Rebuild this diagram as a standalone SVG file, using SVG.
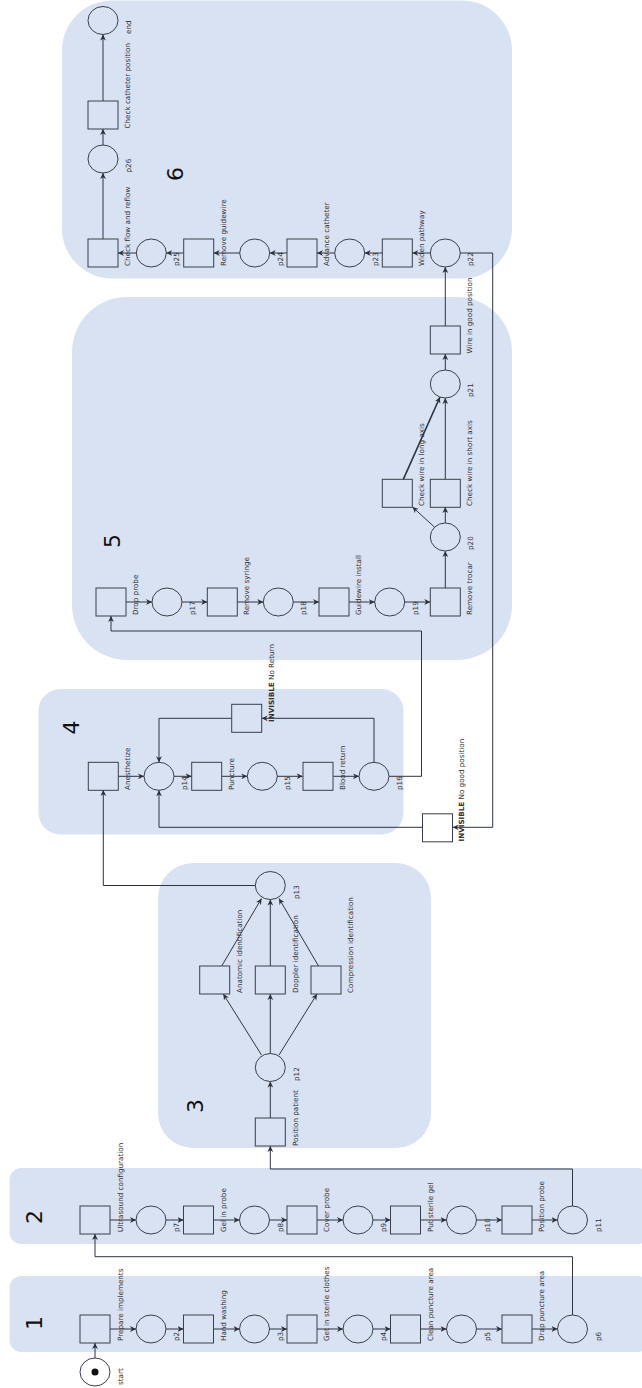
<svg xmlns="http://www.w3.org/2000/svg" width="642" height="1388" viewBox="0 0 642 1388">
<style>
.zone{fill:#d9e2f3}
.n{fill:none;stroke:#3a3f4a;stroke-width:1}
.c{fill:none;stroke:#2f3440;stroke-width:1;marker-end:url(#a)}
.l{font-family:"DejaVu Sans",sans-serif;font-size:7.2px;fill:#333}
.b{font-weight:bold}
.z{font-family:"DejaVu Sans",sans-serif;font-size:22px;fill:#111;text-anchor:middle}
</style>
<defs>
<marker id="a" markerWidth="8" markerHeight="8" refX="6" refY="3.5" orient="auto" markerUnits="userSpaceOnUse"><path d="M0,0.6 L6,3.5 L0,6.4 L1.8,3.5 z" fill="#2a2f3a"/></marker>
</defs>
<g id="zones">
<rect class="zone" x="9.5" y="1276" width="640" height="76" rx="12"/>
<rect class="zone" x="9.5" y="1168" width="640" height="76" rx="12"/>
<rect class="zone" x="158" y="863" width="273" height="285" rx="35"/>
<rect class="zone" x="38.5" y="689" width="365" height="145.5" rx="22"/>
<rect class="zone" x="72" y="297" width="440" height="363" rx="55"/>
<rect class="zone" x="62" y="0.5" width="450" height="278" rx="50"/>
</g>
<g id="zone-labels">
<text class="z" transform="translate(41.5,1323) rotate(-90)">1</text>
<text class="z" transform="translate(41.5,1217) rotate(-90)">2</text>
<text class="z" transform="translate(202.5,1106) rotate(-90)">3</text>
<text class="z" transform="translate(79.3,727.5) rotate(-90)">4</text>
<text class="z" transform="translate(120,541) rotate(-90)">5</text>
<text class="z" transform="translate(182.7,174) rotate(-90)">6</text>
</g>
<g id="connectors">
<path class="c" d="M95,1358 V1343"/>
<path class="c" d="M110,1329 H136"/>
<path class="c" d="M166,1329 H183.5"/>
<path class="c" d="M213.5,1329 H239.5"/>
<path class="c" d="M269.5,1329 H287"/>
<path class="c" d="M317,1329 H343"/>
<path class="c" d="M373,1329 H390.5"/>
<path class="c" d="M420.5,1329 H446.5"/>
<path class="c" d="M476.5,1329 H502"/>
<path class="c" d="M532,1329 H557.5"/>
<path class="c" d="M572.5,1315 V1256.7 H95 V1234"/>
<path class="c" d="M110,1220 H136"/>
<path class="c" d="M166,1220 H183.5"/>
<path class="c" d="M213.5,1220 H239.5"/>
<path class="c" d="M269.5,1220 H287"/>
<path class="c" d="M317,1220 H343"/>
<path class="c" d="M373,1220 H390.5"/>
<path class="c" d="M420.5,1220 H446.5"/>
<path class="c" d="M476.5,1220 H502"/>
<path class="c" d="M532,1220 H557.5"/>
<path class="c" d="M572.5,1206 V1169 H270.3 V1146"/>
<path class="c" d="M270.3,1118 V1081.5"/>
<path class="c" d="M261.5,1055 L223.3,994"/>
<path class="c" d="M270.3,1053.5 V994"/>
<path class="c" d="M279,1055 L317,994"/>
<path class="c" d="M221.7,966 L261.5,898.5"/>
<path class="c" d="M270.3,966 V899.5"/>
<path class="c" d="M318.5,966 L279,898.5"/>
<path class="c" d="M255.3,885.5 H103.3 V790"/>
<path class="c" d="M118.3,776.3 H144"/>
<path class="c" d="M174,776.3 H191.7"/>
<path class="c" d="M221.7,776.3 H247.3"/>
<path class="c" d="M277.3,776.3 H302.7"/>
<path class="c" d="M333.3,776.3 H359"/>
<path class="c" d="M374,762.3 V718.3 H261.7"/>
<path class="c" d="M231.7,718.3 H159 V762.3"/>
<path class="c" d="M389,776.3 H421.5 V631 H111 V616"/>
<path class="c" d="M422.3,827.3 H159 V790.3"/>
<path class="c" d="M460.3,253 H492.7 V827.3 H452.7"/>
<path class="c" d="M126,602 H152"/>
<path class="c" d="M182,602 H207.3"/>
<path class="c" d="M237.3,602 H263.3"/>
<path class="c" d="M293.3,602 H319"/>
<path class="c" d="M349,602 H374.7"/>
<path class="c" d="M404.7,602 H430.3"/>
<path class="c" d="M445.3,588 V551"/>
<path class="c" d="M445.3,523 V507"/>
<path class="c" d="M434.6,527.2 L412.5,507"/>
<path class="c" d="M403.3,479.3 L440,397" style="stroke-width:1.6"/>
<path class="c" d="M445.3,479.3 V398"/>
<path class="c" d="M445.3,370 V354"/>
<path class="c" d="M445.3,326 V267"/>
<path class="c" d="M430.3,253 H412.3"/>
<path class="c" d="M382.3,253 H364.7"/>
<path class="c" d="M334.7,253 H317"/>
<path class="c" d="M287,253 H269.7"/>
<path class="c" d="M239.7,253 H213.7"/>
<path class="c" d="M183.7,253 H166.3"/>
<path class="c" d="M136.3,253 H118"/>
<path class="c" d="M103,239 V173"/>
<path class="c" d="M103,145 V129"/>
<path class="c" d="M103,101 V34.5"/>
</g>
<g id="start"><ellipse class="n" cx="95" cy="1372" rx="15" ry="14"/><circle cx="95" cy="1372" r="3.5" fill="#111"/><text class="l" transform="translate(122.5,1385) rotate(-90)">start</text></g>
<g id="t-prepare"><rect class="n" x="80" y="1315" width="30" height="28"/><text class="l" transform="translate(122.5,1341) rotate(-90)">Prepare implements</text></g>
<g id="p2"><ellipse class="n" cx="151" cy="1329" rx="15" ry="14"/><text class="l" transform="translate(179,1341) rotate(-90)">p2</text></g>
<g id="t-hand"><rect class="n" x="183.5" y="1315" width="30" height="28"/><text class="l" transform="translate(225.5,1341) rotate(-90)">Hand washing</text></g>
<g id="p3"><ellipse class="n" cx="254.5" cy="1329" rx="15" ry="14"/><text class="l" transform="translate(282.5,1341) rotate(-90)">p3</text></g>
<g id="t-clothes"><rect class="n" x="287" y="1315" width="30" height="28"/><text class="l" transform="translate(329,1341) rotate(-90)">Get in sterile clothes</text></g>
<g id="p4"><ellipse class="n" cx="358" cy="1329" rx="15" ry="14"/><text class="l" transform="translate(386,1341) rotate(-90)">p4</text></g>
<g id="t-clean"><rect class="n" x="390.5" y="1315" width="30" height="28"/><text class="l" transform="translate(432.5,1341) rotate(-90)">Clean puncture area</text></g>
<g id="p5"><ellipse class="n" cx="461.5" cy="1329" rx="15" ry="14"/><text class="l" transform="translate(489.5,1341) rotate(-90)">p5</text></g>
<g id="t-drap"><rect class="n" x="502" y="1315" width="30" height="28"/><text class="l" transform="translate(544,1341) rotate(-90)">Drap puncture area</text></g>
<g id="p6"><ellipse class="n" cx="572.5" cy="1329" rx="15" ry="14"/><text class="l" transform="translate(600.5,1341) rotate(-90)">p6</text></g>
<g id="t-ultra"><rect class="n" x="80" y="1206" width="30" height="28"/><text class="l" transform="translate(122.5,1232) rotate(-90)">Ultrasound configuration</text></g>
<g id="p7"><ellipse class="n" cx="151" cy="1220" rx="15" ry="14"/><text class="l" transform="translate(179,1232) rotate(-90)">p7</text></g>
<g id="t-gel"><rect class="n" x="183.5" y="1206" width="30" height="28"/><text class="l" transform="translate(225.5,1232) rotate(-90)">Gel in probe</text></g>
<g id="p8"><ellipse class="n" cx="254.5" cy="1220" rx="15" ry="14"/><text class="l" transform="translate(282.5,1232) rotate(-90)">p8</text></g>
<g id="t-cover"><rect class="n" x="287" y="1206" width="30" height="28"/><text class="l" transform="translate(329,1232) rotate(-90)">Cover probe</text></g>
<g id="p9"><ellipse class="n" cx="358" cy="1220" rx="15" ry="14"/><text class="l" transform="translate(386,1232) rotate(-90)">p9</text></g>
<g id="t-putgel"><rect class="n" x="390.5" y="1206" width="30" height="28"/><text class="l" transform="translate(432.5,1232) rotate(-90)">Put sterile gel</text></g>
<g id="p10"><ellipse class="n" cx="461.5" cy="1220" rx="15" ry="14"/><text class="l" transform="translate(489.5,1232) rotate(-90)">p10</text></g>
<g id="t-posprobe"><rect class="n" x="502" y="1206" width="30" height="28"/><text class="l" transform="translate(544,1232) rotate(-90)">Position probe</text></g>
<g id="p11"><ellipse class="n" cx="572.5" cy="1220" rx="15" ry="14"/><text class="l" transform="translate(600.5,1232) rotate(-90)">p11</text></g>
<g id="t-pospatient"><rect class="n" x="255.3" y="1118" width="30" height="28"/><text class="l" transform="translate(297.5,1146) rotate(-90)">Position patient</text></g>
<g id="p12"><ellipse class="n" cx="270.3" cy="1067.5" rx="15" ry="14"/><text class="l" transform="translate(298.5,1081) rotate(-90)">p12</text></g>
<g id="t-anatomic"><rect class="n" x="199.7" y="966" width="30" height="28"/><text class="l" transform="translate(241.7,993) rotate(-90)">Anatomic identification</text></g>
<g id="t-doppler"><rect class="n" x="255.3" y="966" width="30" height="28"/><text class="l" transform="translate(297.5,993) rotate(-90)">Doppler identification</text></g>
<g id="t-compression"><rect class="n" x="311" y="966" width="30" height="28"/><text class="l" transform="translate(353,993) rotate(-90)">Compression identification</text></g>
<g id="p13"><ellipse class="n" cx="270.3" cy="885.5" rx="15" ry="14"/><text class="l" transform="translate(298.5,899) rotate(-90)">p13</text></g>
<g id="t-anesth"><rect class="n" x="88.3" y="762.3" width="30" height="28"/><text class="l" transform="translate(130.3,790) rotate(-90)">Anesthetize</text></g>
<g id="p14"><ellipse class="n" cx="159" cy="776.3" rx="15" ry="14"/><text class="l" transform="translate(187,790) rotate(-90)">p14</text></g>
<g id="t-puncture"><rect class="n" x="191.7" y="762.3" width="30" height="28"/><text class="l" transform="translate(233.7,790) rotate(-90)">Puncture</text></g>
<g id="p15"><ellipse class="n" cx="262.3" cy="776.3" rx="15" ry="14"/><text class="l" transform="translate(290.3,790) rotate(-90)">p15</text></g>
<g id="t-blood"><rect class="n" x="303" y="762.3" width="30" height="28"/><text class="l" transform="translate(345,790) rotate(-90)">Blood return</text></g>
<g id="p16"><ellipse class="n" cx="374" cy="776.3" rx="15" ry="14"/><text class="l" transform="translate(402,790) rotate(-90)">p16</text></g>
<g id="t-noreturn"><rect class="n" x="231.7" y="704.3" width="30" height="28"/><text class="l" transform="translate(274.2,722) rotate(-90)"><tspan class="b">INVISIBLE</tspan> No Return</text></g>
<g id="t-nogood"><rect class="n" x="422.5" y="813.8" width="30" height="28"/><text class="l" transform="translate(463.7,841.5) rotate(-90)"><tspan class="b">INVISIBLE</tspan> No good position</text></g>
<g id="t-drop"><rect class="n" x="96" y="588" width="30" height="28"/><text class="l" transform="translate(138,615) rotate(-90)">Drop probe</text></g>
<g id="p17"><ellipse class="n" cx="167" cy="602" rx="15" ry="14"/><text class="l" transform="translate(195,615) rotate(-90)">p17</text></g>
<g id="t-syringe"><rect class="n" x="207.3" y="588" width="30" height="28"/><text class="l" transform="translate(249.3,615) rotate(-90)">Remove syringe</text></g>
<g id="p18"><ellipse class="n" cx="278.3" cy="602" rx="15" ry="14"/><text class="l" transform="translate(306.3,615) rotate(-90)">p18</text></g>
<g id="t-guide"><rect class="n" x="319" y="588" width="30" height="28"/><text class="l" transform="translate(361,615) rotate(-90)">Guidewire install</text></g>
<g id="p19"><ellipse class="n" cx="389.7" cy="602" rx="15" ry="14"/><text class="l" transform="translate(417.7,615) rotate(-90)">p19</text></g>
<g id="t-trocar"><rect class="n" x="430.3" y="588" width="30" height="28"/><text class="l" transform="translate(472.3,615) rotate(-90)">Remove trocar</text></g>
<g id="p20"><ellipse class="n" cx="445.3" cy="537" rx="15" ry="14"/><text class="l" transform="translate(473.3,550) rotate(-90)">p20</text></g>
<g id="t-long"><rect class="n" x="382.3" y="479.3" width="30" height="28"/><text class="l" transform="translate(424.3,506) rotate(-90)">Check wire in long axis</text></g>
<g id="t-short"><rect class="n" x="430.3" y="479.3" width="30" height="28"/><text class="l" transform="translate(472.3,506) rotate(-90)">Check wire in short axis</text></g>
<g id="p21"><ellipse class="n" cx="445.3" cy="384" rx="15" ry="14"/><text class="l" transform="translate(473.3,397) rotate(-90)">p21</text></g>
<g id="t-wiregood"><rect class="n" x="430.3" y="326" width="30" height="28"/><text class="l" transform="translate(472.3,353.5) rotate(-90)">Wire in good position</text></g>
<g id="p22"><ellipse class="n" cx="445.3" cy="253" rx="15" ry="14"/><text class="l" transform="translate(473.3,266) rotate(-90)">p22</text></g>
<g id="t-widen"><rect class="n" x="382.3" y="239" width="30" height="28"/><text class="l" transform="translate(424.3,266) rotate(-90)">Widen pathway</text></g>
<g id="p23"><ellipse class="n" cx="349.7" cy="253" rx="15" ry="14"/><text class="l" transform="translate(377.7,266) rotate(-90)">p23</text></g>
<g id="t-advance"><rect class="n" x="287" y="239" width="30" height="28"/><text class="l" transform="translate(329,266) rotate(-90)">Advance catheter</text></g>
<g id="p24"><ellipse class="n" cx="254.7" cy="253" rx="15" ry="14"/><text class="l" transform="translate(282.7,266) rotate(-90)">p24</text></g>
<g id="t-removeguide"><rect class="n" x="183.7" y="239" width="30" height="28"/><text class="l" transform="translate(225.7,266) rotate(-90)">Remove guidewire</text></g>
<g id="p25"><ellipse class="n" cx="151.3" cy="253" rx="15" ry="14"/><text class="l" transform="translate(179.3,266) rotate(-90)">p25</text></g>
<g id="t-flow"><rect class="n" x="88" y="239" width="30" height="28"/><text class="l" transform="translate(130,266) rotate(-90)">Check flow and reflow</text></g>
<g id="p26"><ellipse class="n" cx="103" cy="159" rx="15" ry="14"/><text class="l" transform="translate(131,172.5) rotate(-90)">p26</text></g>
<g id="t-catheter"><rect class="n" x="88" y="101" width="30" height="28"/><text class="l" transform="translate(130,128.5) rotate(-90)">Check catheter position</text></g>
<g id="end"><ellipse class="n" cx="103" cy="20.5" rx="15" ry="14"/><text class="l" transform="translate(131,34) rotate(-90)">end</text></g>
</svg>
